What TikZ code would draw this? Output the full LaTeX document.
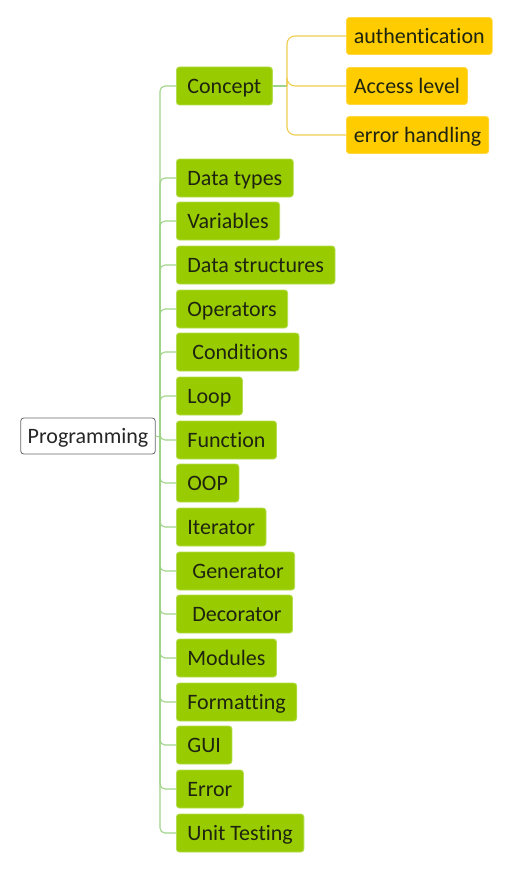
\documentclass[tikz,border=0pt]{standalone}
\usepackage{fontspec}
\setmainfont{Carlito}[Ligatures=NoCommon]
\usepackage{tikz}
\usetikzlibrary{positioning}
\definecolor{topicgreen}{HTML}{99CC00}
\definecolor{topicedge}{HTML}{B5DC50}
\definecolor{subyellow}{HTML}{FFCC00}
\definecolor{subedge}{HTML}{FFD740}
\definecolor{greenline}{HTML}{9FD488}
\definecolor{yellowline}{HTML}{F0CC50}
\definecolor{inktext}{HTML}{1E2410}

\begin{document}
\begin{tikzpicture}[x=1pt,y=-1pt,
        font=\fontsize{22}{24}\selectfont,
        every node/.style={text height=17pt,text depth=2pt},
        root/.style={draw=black!60,fill=white,rounded corners=3pt,line width=0.8pt,
            minimum height=36pt,inner xsep=7pt,text=black!85},
        topic/.style={draw=topicedge,fill=topicgreen,rounded corners=3pt,line width=0.8pt,
            minimum height=38pt,inner xsep=11pt,anchor=west,text=inktext},
        subtopic/.style={draw=subedge,fill=subyellow,rounded corners=3pt,line width=0.8pt,
            minimum height=37pt,inner xsep=7.5pt,anchor=west,text=inktext},
        link/.style={draw=greenline,line width=1.1pt,rounded corners=5pt},
        sublink/.style={draw=yellowline,line width=1.1pt,rounded corners=8pt}]
    \useasboundingbox (0,0) rectangle (511,872);

    %\node[root] (prog) at (88,435) {Programming};
    \node[root] (prog) at (88,436) {Programming};
    \coordinate (hub) at (160,437);

    \node[topic] (concept) at (176,86) {Concept};
    \node[topic] (dtypes) at (176,178) {Data types};
    \node[topic] (vars) at (176,221) {Variables};
    \node[topic] (dstruct) at (176,265) {Data structures};
    \node[topic] (ops) at (176,309) {Operators};
    \node[topic] (cond) at (176,352) {\ Conditions};
    \node[topic] (loop) at (176,396) {Loop};
    \node[topic] (func) at (176,440) {Function};
    \node[topic] (oop) at (176,483) {OOP};
    \node[topic] (iter) at (176,527) {Iterator};
    \node[topic] (gen) at (176,571) {\ Generator};
    \node[topic] (deco) at (176,614) {\ Decorator};
    \node[topic] (mods) at (176,658) {Modules};
    \node[topic] (fmt) at (176,702) {Formatting};
    \node[topic] (gui) at (176,745) {GUI};
    \node[topic] (err) at (176,789) {Error};
    \node[topic] (unit) at (176,833) {Unit Testing};

    \coordinate (chub) at (287,86);
    \node[subtopic] (auth) at (346,36) {authentication};
    \node[subtopic] (access) at (346,86) {Access level};
    \node[subtopic] (errh) at (346,135) {error handling};

    % trunk
    \draw[link] (prog.east) -- (hub);
    \foreach \t in {concept,dtypes,vars,dstruct,ops,cond,loop,func,oop,iter,gen,deco,mods,fmt,gui,err,unit}
        \draw[link] (hub) |- (\t.west);

    % concept branch
    \draw[link,rounded corners=0pt] (concept.east) -- (chub);
    \foreach \s in {auth,access,errh}
        \draw[sublink] (chub) |- (\s.west);
\end{tikzpicture}
\end{document}
